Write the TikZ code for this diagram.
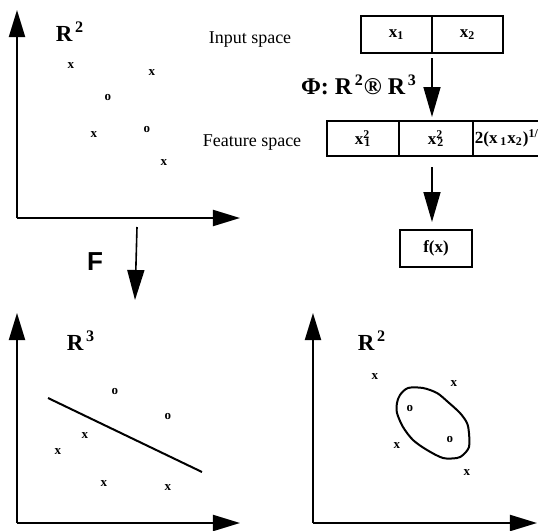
\documentclass[tikz,border=0pt]{standalone}
\usepackage{fontspec}
\setmainfont{Liberation Serif}
\newfontfamily\labsans{Liberation Sans}
\usetikzlibrary{arrows.meta, positioning}

\begin{document}
\begin{tikzpicture}[x=0.5pt, y=-0.5pt,
    axis/.style={line width=1pt, -{Triangle[length=13.5pt, width=8pt]}},
    flow/.style={line width=0.8pt, -{Triangle[length=15pt, width=8.5pt]}},
    pt/.style={font=\bfseries\fontsize{6.5}{6.5}\selectfont, inner sep=0pt},
    cell/.style={draw, line width=0.8pt, outer sep=0pt, inner sep=1pt, minimum height=17.5pt,
        font=\bfseries\fontsize{8.5}{9}\selectfont},
    lab/.style={font=\fontsize{9}{10}\selectfont},
    space/.style={font=\bfseries\fontsize{11.5}{12}\selectfont}]
    \clip (0,0) rectangle (538,531);

    % input space R^2
    \coordinate (o1) at (17,218);
    \coordinate (y1) at (17,10);
    \coordinate (x1) at (240,218);
    \draw[axis] (o1) -- (y1);
    \draw[axis] (o1) -- (x1);
    \node[space] (r1) at (70,32) {R\textsuperscript{\,2}};
    \foreach \px/\py/\c [count=\i] in {71/66/x, 152/73/x, 108/97/o, 94/135/x, 147/129/o, 164/163/x}
        \node[pt] (a\i) at (\px,\py) {\c};

    % feature space R^3
    \coordinate (o3) at (17,523);
    \coordinate (y3) at (17,313);
    \coordinate (x3) at (240,523);
    \draw[axis] (o3) -- (y3);
    \draw[axis] (o3) -- (x3);
    \node[space] (r3) at (81,341) {R\textsuperscript{\,3}};
    \foreach \px/\py/\c [count=\i] in {115/391/o, 168/416/o, 85/436/x, 58/452/x, 104/484/x, 168/488/x}
        \node[pt] (b\i) at (\px,\py) {\c};
    \coordinate (s1) at (48,398);
    \coordinate (s2) at (202,472);
    \draw[line width=1pt] (s1) -- (s2);

    % back in R^2
    \coordinate (o4) at (313,523);
    \coordinate (y4) at (313,313);
    \coordinate (x4) at (537,523);
    \draw[axis] (o4) -- (y4);
    \draw[axis] (o4) -- (x4);
    \node[space] (r4) at (372,341) {R\textsuperscript{\,2}};
    \foreach \px/\py/\c [count=\i] in {375/377/x, 454/384/x, 410/408/o, 450/439/o, 397/446/x, 467/473/x}
        \node[pt] (d\i) at (\px,\py) {\c};
    \draw[line width=1pt] plot[smooth cycle, tension=0.5] coordinates {
        (408,388) (423,388) (437,393) (448,402) (460,413) (467,423) (469,433)
        (469,447) (463,455) (457,458) (443,458) (427,450) (413,440) (403,427)
        (397,413) (397,403) (400,395)};

    % the mapping
    \coordinate (fa) at (137,227);
    \coordinate (fb) at (135,300);
    \draw[flow] (fa) -- (fb);
    \node[font=\labsans\bfseries\fontsize{13}{13}\selectfont] (F) at (95,262) {F};

    \node[lab] (inp) at (250,40) {Input space};
    \node[cell, minimum width=35.5pt, minimum height=18.5pt] (c1) at (396.5,34.5) {x\textsubscript{1}};
    \node[cell, minimum width=35.5pt, minimum height=18.5pt, right=0pt of c1] (c2) {x\textsubscript{2}};

    \node[font=\bfseries\fontsize{12}{13}\selectfont] (phi) at (359,85) {Φ: R\textsuperscript{\,2}® R\textsuperscript{\,3}};

    \node[lab] (feat) at (252,143) {Feature space};
    \node[cell, minimum width=36pt] (f1) at (363,138.5) {x\textsuperscript{2}\kern-0.35em\textsubscript{1}};
    \node[cell, minimum width=37pt, right=0pt of f1] (f2) {x\textsuperscript{2}\kern-0.35em\textsubscript{2}};
    \node[cell, minimum width=35pt, right=0pt of f2] (f3) {2(x\,\textsubscript{1}x\textsubscript{2})\textsuperscript{1/2}};

    \node[cell, minimum width=36pt, minimum height=18.5pt, below=37pt of f2] (fx) {f(x)};

    \draw[flow, shorten >=2pt] ([yshift=-2.5pt]c1.south east) -- (c1.south east |- f2.north);
    \draw[flow, shorten >=4pt] ([yshift=-5.5pt]f2.south -| c1.east) -- (fx.north -| c1.east);
\end{tikzpicture}
\end{document}
